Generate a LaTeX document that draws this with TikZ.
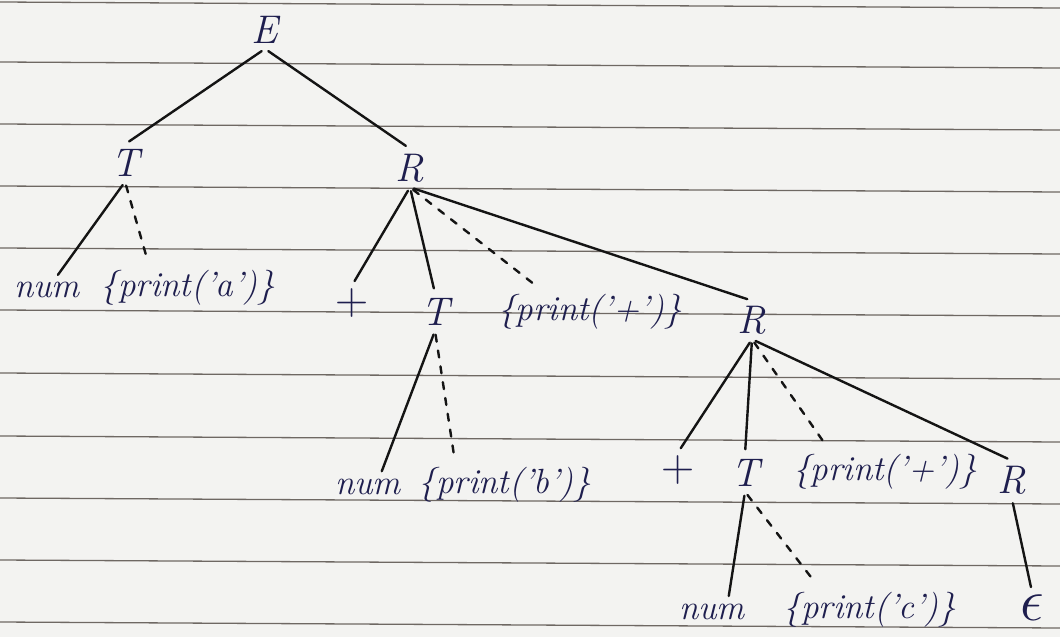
\documentclass[tikz,border=0pt]{standalone}
\usetikzlibrary{calc}
\definecolor{paper}{HTML}{F3F3F1}
\definecolor{rule}{HTML}{6E6863}
\definecolor{ink}{HTML}{1E1E4E}
\definecolor{pen}{HTML}{141414}
\begin{document}
\begin{tikzpicture}[x=1pt,y=-1pt,
  lbl/.style={text=ink,inner sep=3pt,font=\fontsize{35}{38}\selectfont\itshape},
  plus/.style={text=ink,inner sep=3pt,font=\fontsize{46}{48}\selectfont},
  sym/.style={text=ink,inner sep=5pt,font=\fontsize{40}{44}\selectfont\itshape},
  edge/.style={draw=pen,line width=2.4pt,line cap=round,shorten <=4pt,shorten >=5pt},
  dedge/.style={edge,dash pattern=on 7pt off 9pt,shorten >=10pt},
  ruleline/.style={draw=rule,line width=1.3pt}]
\useasboundingbox (0,0) rectangle (1060,637);
\fill[paper] (0,0) rectangle (1060,637);
% ruled paper
\foreach \y in {2,62,124,186,248,310,373,436,498,560,622}
  \draw[ruleline] (0,\y) -- (1060,\y+6);
% nodes
\node[sym] (E)  at (265,30) {E};
\node[sym] (T1) at (125,163) {T};
\node[sym] (R1) at (410,168) {R};
\node[lbl] (n1) at (47,290) {num};
\node[lbl] (pa) at (188,288) {\{print('a')\}};
\node[plus] (p1) at (352,303) {+};
\node[sym] (T2) at (435,312) {T};
\node[lbl] (pp1) at (590,312) {\{print('+')\}};
\node[sym] (R2) at (752,320) {R};
\node[lbl] (n2) at (368,487) {num};
\node[lbl] (pb) at (505,485) {\{print('b')\}};
\node[plus] (p2) at (678,470) {+};
\node[sym] (T3) at (745,473) {T};
\node[lbl] (pp2) at (885,472) {\{print('+')\}};
\node[sym] (R3) at (1012,480) {R};
\node[lbl] (n3) at (712,612) {num};
\node[lbl] (pc) at (870,610) {\{print('c')\}};
\node[lbl] (eps) at (1032,608) {\scalebox{2.4}{$\epsilon$}};
% edges
\draw[edge] (E.south) -- (T1.north);
\draw[edge] (E.south) -- (R1.north);
\draw[edge] (T1.south) -- ([xshift=8pt]n1.north);
\draw[dedge] (T1.south) -- ([xshift=52pt]pa.north west);
\draw[edge] (R1.south) -- (p1.north);
\draw[edge] (R1.south) -- (T2.north);
\draw[dedge] (R1.south) -- ([xshift=48pt]pp1.north west);
\draw[edge] (R1.south) -- (R2.north);
\draw[edge] (T2.south) -- ([xshift=12pt]n2.north);
\draw[dedge] (T2.south) -- ([xshift=40pt]pb.north west);
\draw[edge] (R2.south) -- (p2.north);
\draw[edge] (R2.south) -- (T3.north);
\draw[dedge] (R2.south) -- ([xshift=40pt]pp2.north west);
\draw[edge] (R2.south) -- (R3.north);
\draw[edge] (T3.south) -- ([xshift=16pt]n3.north);
\draw[dedge] (T3.south) -- ([xshift=40pt]pc.north west);
\draw[edge] (R3.south) -- (eps.north);
\end{tikzpicture}
\end{document}
